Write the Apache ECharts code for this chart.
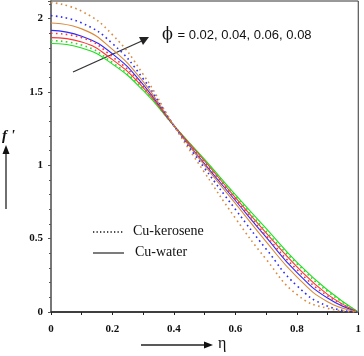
<!DOCTYPE html>
<html>
<head>
<meta charset="utf-8">
<script src="https://cdn.jsdelivr.net/npm/echarts@6/dist/echarts.min.js"></script>
<style>
html,body{margin:0;padding:0;background:#fff;}
#chart{width:364px;height:356px;}
</style>
</head>
<body>
<div id="chart"></div>
<script>
// eta grid
const eta = [0, 0.1, 0.2, 0.3, 0.4, 0.5, 0.6, 0.7, 0.8, 0.9, 1];
const phiValues = ['0.02', '0.04', '0.06', '0.08'];
const xTicks = ['0', '0.2', '0.4', '0.6', '0.8', '1'];
const yTicks = ['0', '0.5', '1', '1.5', '2'];

// Cu-water (solid)
const water002 = [1.83, 1.80, 1.69, 1.51, 1.27, 1.04, 0.80, 0.57, 0.34, 0.15, 0];
const water004 = [1.87, 1.84, 1.72, 1.53, 1.27, 1.03, 0.78, 0.54, 0.31, 0.12, 0];
const water006 = [1.92, 1.88, 1.76, 1.55, 1.27, 1.01, 0.76, 0.51, 0.27, 0.095, 0];
const water008 = [1.97, 1.93, 1.79, 1.57, 1.27, 1.00, 0.74, 0.48, 0.24, 0.07, 0];

// Cu-kerosene (dotted)
const kero002 = [1.85, 1.82, 1.70, 1.52, 1.27, 1.03, 0.79, 0.55, 0.33, 0.14, 0];
const kero004 = [1.90, 1.87, 1.74, 1.54, 1.27, 1.02, 0.77, 0.52, 0.29, 0.11, 0];
const kero006 = [2.02, 1.97, 1.83, 1.59, 1.27, 0.98, 0.70, 0.43, 0.18, 0.04, 0];
const kero008 = [2.11, 2.05, 1.89, 1.62, 1.27, 0.95, 0.64, 0.36, 0.12, 0.025, 0];

const colors = ['#22dd22', '#ff3535', '#2b2bff', '#d98a3d'];
const waterSets = [water002, water004, water006, water008];
const keroSets = [kero002, kero004, kero006, kero008];

function pairs(arr) { return eta.map((e, i) => [e, arr[i]]); }

const series = [];
waterSets.forEach((arr, k) => {
  series.push({
    name: 'Cu-water φ=' + phiValues[k], type: 'line', data: pairs(arr),
    smooth: true, showSymbol: false, silent: true,
    lineStyle: { color: colors[k], width: 1.1, type: 'solid' }
  });
});
keroSets.forEach((arr, k) => {
  series.push({
    name: 'Cu-kerosene φ=' + phiValues[k], type: 'line', data: pairs(arr),
    smooth: true, showSymbol: false, silent: true,
    lineStyle: { color: colors[k], width: 1.6, type: [1.6, 3.4] }
  });
});

const chart = echarts.init(document.getElementById('chart'), null, { renderer: 'canvas' });
const labelFont = { fontFamily: 'Liberation Serif', fontWeight: 'bold', fontSize: 11, color: '#111' };

chart.setOption({
  animation: false,
  backgroundColor: '#fff',
  grid: { left: 51, right: 3, top: 1, bottom: 44, show: true, borderColor: '#333', borderWidth: 1 },
  xAxis: {
    type: 'value', min: 0, max: 1, interval: 0.2,
    axisLine: { lineStyle: { color: '#222', width: 1.5 } },
    axisTick: { inside: false, length: 3, lineStyle: { color: '#222' } },
    minorTick: { show: true, splitNumber: 2, length: 3, lineStyle: { color: '#222' } },
    splitLine: { show: false },
    axisLabel: Object.assign({ margin: 12, formatter: v => xTicks[Math.round(v / 0.2)] }, labelFont)
  },
  yAxis: {
    type: 'value', min: 0, max: 2.12, interval: 0.5,
    axisLine: { show: true, lineStyle: { color: '#777', width: 2 } },
    axisTick: { show: true, inside: false, length: 3, lineStyle: { color: '#555' } },
    minorTick: { show: true, splitNumber: 5, length: 2, lineStyle: { color: '#555' } },
    splitLine: { show: false },
    axisLabel: Object.assign({ margin: 8, showMaxLabel: false, formatter: v => { const i = Math.round(v / 0.5); return yTicks[i] !== undefined ? yTicks[i] : ''; } }, labelFont)
  },
  series: series,
  graphic: [
    // phi arrow
    { type: 'line', shape: { x1: 73, y1: 72, x2: 144, y2: 40 }, style: { stroke: '#333', lineWidth: 1.3 } },
    { type: 'polygon', shape: { points: [[149, 37], [139, 37], [143, 45]] }, style: { fill: '#222' } },
    { type: 'text', left: 162, top: 27, style: {
        text: '{p|ϕ} = 0.02, 0.04, 0.06, 0.08',
        font: '13px "Liberation Sans"', fill: '#111',
        rich: { p: { fontFamily: 'DejaVu Serif', fontSize: 16, fill: '#111', padding: [0, 1, 0, 0] } }
      } },
    // f' label with up arrow
    { type: 'text', left: 2, top: 129, style: { text: "f '", font: 'italic bold 15px "Liberation Serif"', fill: '#111' } },
    { type: 'line', shape: { x1: 6, y1: 209, x2: 6, y2: 152 }, style: { stroke: '#222', lineWidth: 1.3 } },
    { type: 'polygon', shape: { points: [[6, 145], [2.5, 154], [9.5, 154]] }, style: { fill: '#111' } },
    // eta label with right arrow
    { type: 'line', shape: { x1: 141, y1: 345, x2: 206, y2: 345 }, style: { stroke: '#222', lineWidth: 1.3 } },
    { type: 'polygon', shape: { points: [[213, 345], [204, 341.5], [204, 348.5]] }, style: { fill: '#111' } },
    { type: 'text', left: 218, top: 336, style: { text: 'η', font: '16px "Liberation Serif"', fill: '#111' } },
    // legend
    { type: 'line', shape: { x1: 93, y1: 232, x2: 123, y2: 232 }, style: { stroke: '#111', lineWidth: 1.3, lineDash: [1.3, 2.2] } },
    { type: 'text', left: 133, top: 224, style: { text: 'Cu-kerosene', font: '14px "Liberation Serif"', fill: '#111' } },
    { type: 'line', shape: { x1: 93, y1: 253, x2: 124, y2: 253 }, style: { stroke: '#111', lineWidth: 1.1 } },
    { type: 'text', left: 135, top: 245, style: { text: 'Cu-water', font: '14px "Liberation Serif"', fill: '#111' } }
  ]
});
</script>
</body>
</html>
